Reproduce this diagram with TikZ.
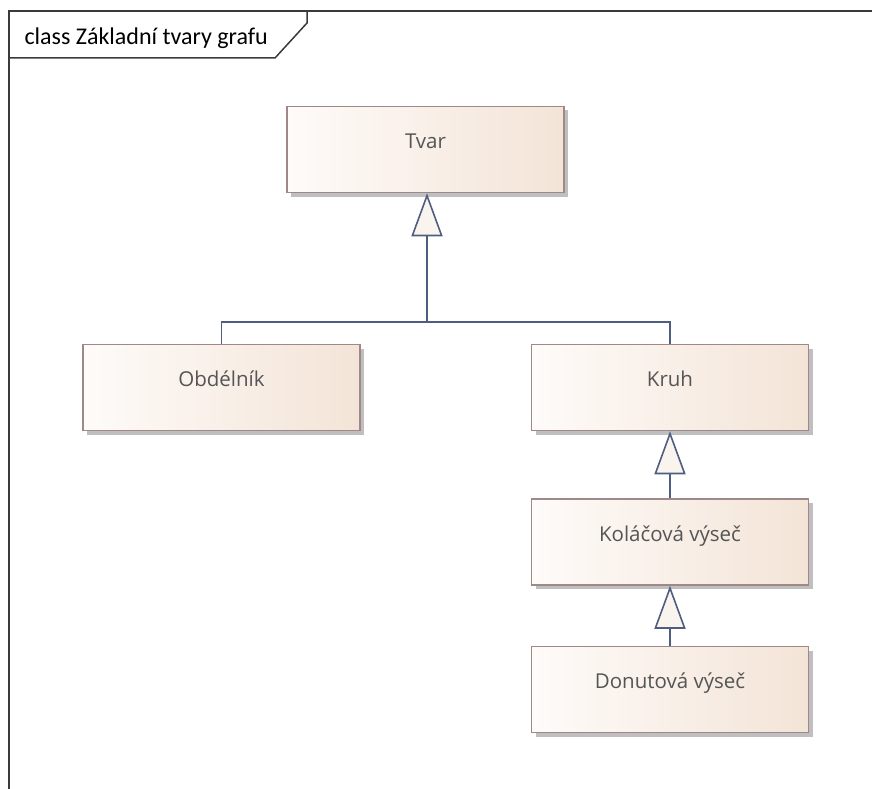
\documentclass[tikz,border=0pt]{standalone}
\usepackage{fontspec}
\setmainfont{Open Sans}
\newfontfamily\titulfont{Carlito}
\usetikzlibrary{arrows.meta,positioning,shadows}

\definecolor{ramec}{HTML}{3A3A3A}
\definecolor{okraj}{HTML}{A08888}
\definecolor{vlevo}{HTML}{FEFBF9}
\definecolor{vpravo}{HTML}{F3E4D7}
\definecolor{spojnice}{HTML}{4E5D80}
\definecolor{popis}{HTML}{555555}

\begin{document}
\begin{tikzpicture}[x=1pt,y=-1pt]
 \tikzset{trida node/.style={rectangle, draw=okraj, line width=1.5pt,
 		left color=vlevo, right color=vpravo,
 		minimum width=277pt, minimum height=86pt,
 		text height=15pt, text depth=17pt,
 		text=popis, font=\fontsize{20.5}{24}\selectfont,
 		drop shadow={shadow xshift=4pt, shadow yshift=-4pt,
 			fill=black!25, opacity=1}}, }
 \tikzset{dedi/.style={draw=spojnice, line width=1.6pt,
 		-{Triangle[length=43pt, width=31pt, fill=vpravo!40, line width=1.6pt]}}, }
 \tikzset{vetev/.style={draw=spojnice, line width=1.6pt}, }
 \useasboundingbox (0,0) rectangle (872,789);
 % ramec diagramu
 \draw[ramec, line width=1.5pt] (9,789) -- (9,11) -- (872,11);
 \draw[ramec, line width=1.5pt] (9,58) -- (275,58) -- (307,23) -- (307,11);
 \node[anchor=base west, font=\titulfont\fontsize{24}{28}\selectfont] (titul) at (21,45) {class Základní tvary grafu};
 % tridy
 \node[trida node] (1) at (425.5,149.5) {Tvar};
 \node[trida node] (2) at (221.5,387.5) {Obdélník};
 \node[trida node] (3)[right=170pt of 2] {Kruh};
 \node[trida node] (4)[below=67pt of 3] {Koláčová výseč};
 \node[trida node] (5)[below=60pt of 4] {Donutová výseč};
 % dedicnost
 \coordinate (spoj) at (427,322);
 \draw[vetev] (2.north) |- (spoj) -| (3.north);
 \draw[dedi] (spoj) -- (spoj |- 1.south);
 \foreach \x /\y in{4/3,5/4}
 \draw[dedi] (\x) -- (\y);
\end{tikzpicture}
\end{document}
